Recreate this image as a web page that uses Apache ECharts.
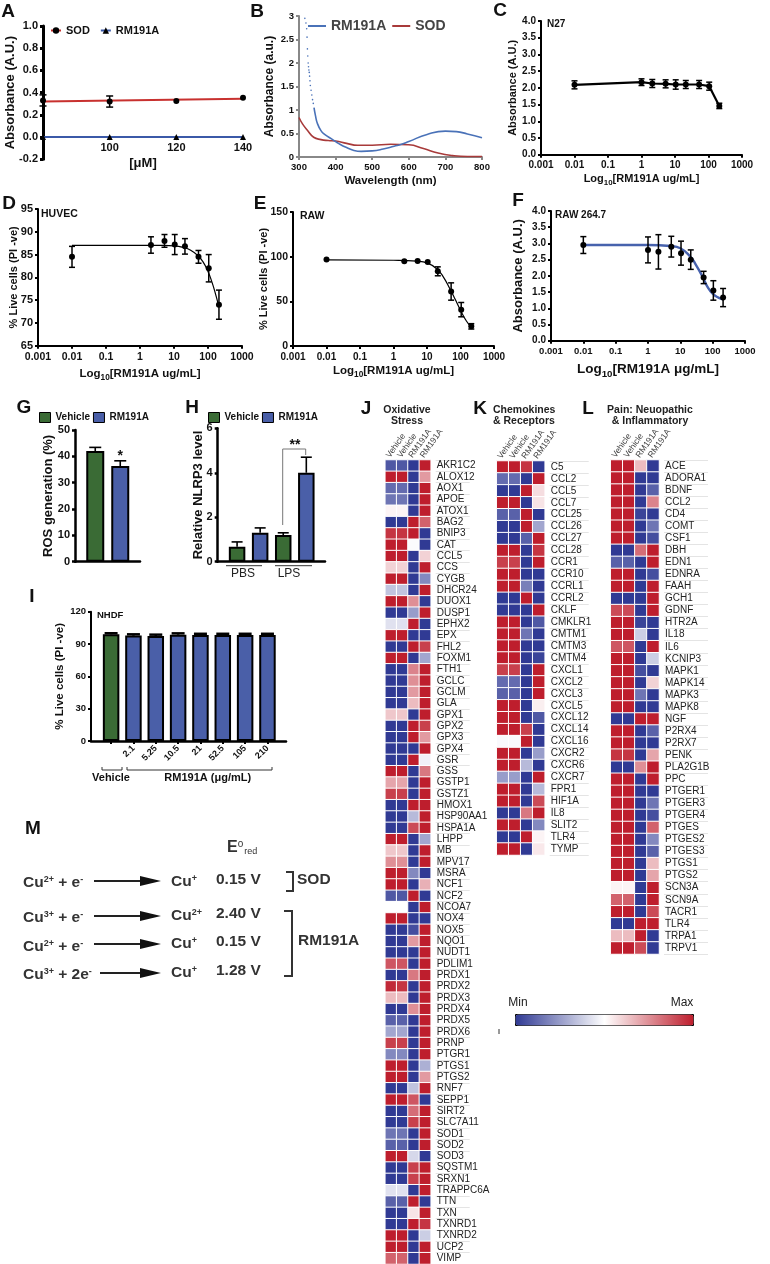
<!DOCTYPE html>
<html>
<head>
<meta charset="utf-8">
<title>RM191A panels</title>
<style>
  html, body { margin: 0; padding: 0; background: #fff; }
  #chart { width: 770px; height: 1264px; }
</style>
<script src="https://cdn.jsdelivr.net/npm/echarts@6/dist/echarts.min.js"></script>
</head>
<body>
<div id="chart"></div>
<script>
// ---- data ----
const concA = [80, 100, 120, 140];
const sodA = [0.33, 0.32, 0.325, 0.355];
const sodErrA = [0.05, 0.05, 0, 0];
const sodFitX = [80, 140];
const sodFitY = [0.32, 0.345];
const rmA = [0, 0, 0, 0];

const rmWaveDots = [316, 319, 321, 322, 323, 324, 325, 326, 327, 328, 329, 330, 331, 333, 335, 337, 339];
const rmAbsDots = [2.95, 2.85, 2.73, 2.55, 2.3, 2.15, 2.0, 1.92, 1.85, 1.8, 1.72, 1.62, 1.52, 1.42, 1.32, 1.22, 1.14];
const rmWave = [341, 345, 350, 360, 370, 390, 410, 430, 450, 470, 500, 530, 560, 580, 600, 650, 700, 730, 760, 800];
const rmAbs = [1.05, 0.88, 0.72, 0.56, 0.48, 0.38, 0.28, 0.2, 0.14, 0.12, 0.13, 0.17, 0.23, 0.27, 0.33, 0.48, 0.55, 0.54, 0.49, 0.41];
const sodWave = [300, 310, 325, 340, 360, 380, 400, 430, 460, 500, 550, 600, 640, 680, 720, 760, 800];
const sodAbs = [0.84, 0.7, 0.55, 0.42, 0.37, 0.35, 0.34, 0.29, 0.25, 0.25, 0.27, 0.26, 0.18, 0.085, 0.03, 0.01, 0.01];

const doseC = [0.01, 1, 2.1, 5.25, 10.5, 21, 52.5, 105, 210];
const absC = [2.09, 2.17, 2.13, 2.12, 2.1, 2.1, 2.1, 2.05, 1.46];
const errC = [0.12, 0.1, 0.12, 0.12, 0.14, 0.12, 0.12, 0.12, 0.08];

const doseD = [0.01, 2.1, 5.25, 10.5, 21, 52.5, 105, 210];
const liveD = [84.5, 87.1, 88, 87.2, 86.8, 84.5, 82, 74];
const errD = [2.3, 1.8, 1.4, 2.2, 1.7, 1.4, 3, 3.2];
const fitXD = [0.01, 0.1, 1, 2, 5, 10, 20, 30, 50, 70, 100, 130, 160, 210];
const fitYD = [87, 87, 87, 87, 87, 86.9, 86.5, 86, 84.8, 83.5, 81.3, 79, 76.8, 73.5];

const doseE = [0.01, 2.1, 5.25, 10.5, 21, 52.5, 105, 210];
const liveE = [96.7, 94.8, 95.1, 94, 83.6, 61, 40.7, 22];
const errE = [0, 0, 0, 0, 5, 9.7, 8, 3];
const fitXE = [0.01, 1, 5, 10, 20, 30, 50, 70, 100, 150, 210];
const fitYE = [96.5, 96, 95, 93, 86, 78, 63, 52, 40, 28, 21];

const doseF = [0.01, 1, 2.1, 5.25, 10.5, 21, 52.5, 105, 210];
const absF = [2.95, 2.8, 2.74, 2.9, 2.7, 2.5, 1.95, 1.55, 1.33];
const errF = [0.26, 0.4, 0.53, 0.32, 0.37, 0.3, 0.19, 0.3, 0.28];
const fitXF = [0.01, 1, 5, 10, 20, 30, 50, 70, 100, 150, 210];
const fitYF = [2.95, 2.95, 2.92, 2.85, 2.6, 2.35, 1.95, 1.65, 1.45, 1.33, 1.28];

const rosValues = [42, 36.3];
const rosErrs = [1.4, 2];
const nlrpVehicle = [0.67, 1.2];
const nlrpVehicleErr = [0.22, 0.1];
const nlrpRm = [1.3, 4];
const nlrpRmErr = [0.22, 0.7];
const nhdfDoses = ['2.1', '5.25', '10.5', '21', '52.5', '105', '210'];
const nhdfVehicle = [99];
const nhdfRm = [97.8, 97.5, 98.7, 98.3, 98.3, 98.3, 98.3];
const nhdfErr = [1, 1.2, 1.2, 1.2, 1.2, 1.2, 1.2, 1.2];

const heatCols = ['Vehicle', 'Vehicle', 'RM191A', 'RM191A'];

const oxidativeGenes = ['AKR1C2', 'ALOX12', 'AOX1', 'APOE', 'ATOX1', 'BAG2', 'BNIP3', 'CAT', 'CCL5', 'CCS', 'CYGB', 'DHCR24', 'DUOX1', 'DUSP1', 'EPHX2', 'EPX', 'FHL2', 'FOXM1', 'FTH1', 'GCLC', 'GCLM', 'GLA', 'GPX1', 'GPX2', 'GPX3', 'GPX4', 'GSR', 'GSS', 'GSTP1', 'GSTZ1', 'HMOX1', 'HSP90AA1', 'HSPA1A', 'LHPP', 'MB', 'MPV17', 'MSRA', 'NCF1', 'NCF2', 'NCOA7', 'NOX4', 'NOX5', 'NQO1', 'NUDT1', 'PDLIM1', 'PRDX1', 'PRDX2', 'PRDX3', 'PRDX4', 'PRDX5', 'PRDX6', 'PRNP', 'PTGR1', 'PTGS1', 'PTGS2', 'RNF7', 'SEPP1', 'SIRT2', 'SLC7A11', 'SOD1', 'SOD2', 'SOD3', 'SQSTM1', 'SRXN1', 'TRAPPC6A', 'TTN', 'TXN', 'TXNRD1', 'TXNRD2', 'UCP2', 'VIMP'];
const oxidativeValues = [
  [-.85, -.85, -1, 1], [1, 1, -1, .45], [-.75, -.75, -1, 1], [-.7, -.7, -1, 1], [.05, .05, -1, 1], [-1, -1, 1, .7],
  [.9, .9, 1, -1], [1, 1, -.02, -1], [1, 1, -1, .2], [.2, .2, -1, 1], [1, 1, -1, -.6], [-.3, -.3, -1, 1],
  [1, 1, .5, -1], [-1, -1, -.5, 1], [-.15, -.15, 1, -1], [1, 1, -1, -1], [-1, -1, 1, .85], [1, 1, -1, -.45],
  [-1, -1, .55, 1], [-1, -1, .5, 1], [-1, -1, .45, 1], [-1, -1, .3, 1], [.25, .25, -1, 1], [-1, -1, 1, .85],
  [-1, -1, 1, .45], [-1, -1, -1, 1], [-1, -1, 1, -.07], [1, 1, -1, .6], [.4, .4, -1, 1], [.85, .85, -1, 1],
  [-1, -1, 1, 1], [-1, -1, -.35, 1], [-1, -1, .8, 1], [1, 1, -1, -.45], [.25, .25, -1, 1], [.5, .5, -1, 1],
  [1, 1, -.6, -1], [1, 1, -1, .35], [-.85, -.85, 1, -1], [0, 0, -1, 1], [1, 1, -1, -1], [-1, -1, -.9, 1],
  [-1, -1, .45, 1], [-1, -1, -1, 1], [.75, .75, -1, 1], [-1, -1, .6, 1], [.95, .9, -1, 1], [.3, .3, -1, 1],
  [-1, -1, .5, 1], [-.8, -.8, -1, 1], [-.45, -.45, -1, 1], [.85, .85, -1, 1], [-.6, -.6, -1, 1], [1, 1, -1, -.4],
  [1, 1, -1, .45], [-1, -1, -.3, 1], [1, 1, .75, -1], [-1, -1, .65, 1], [-1, -1, .85, 1], [-.7, -.7, -1, 1],
  [-.8, -.8, -1, 1], [1, 1, -.2, -1], [-1, -1, .85, 1], [-1, -1, .85, 1], [-.15, -.15, -1, 1], [-.8, -.8, 1, -1],
  [-1, -1, .12, 1], [-1, -1, 1, .9], [1, 1, -1, -.25], [1, 1, -1, 1], [.7, .7, -1, 1]
];

const chemokineGenes = ['C5', 'CCL2', 'CCL5', 'CCL7', 'CCL25', 'CCL26', 'CCL27', 'CCL28', 'CCR1', 'CCR10', 'CCRL1', 'CCRL2', 'CKLF', 'CMKLR1', 'CMTM1', 'CMTM3', 'CMTM4', 'CXCL1', 'CXCL2', 'CXCL3', 'CXCL5', 'CXCL12', 'CXCL14', 'CXCL16', 'CXCR2', 'CXCR6', 'CXCR7', 'FPR1', 'HIF1A', 'IL8', 'SLIT2', 'TLR4', 'TYMP'];
const chemokineValues = [
  [1, 1, .9, -1], [-.75, -.75, -1, 1], [-1, -1, 1, .15], [1, 1, -1, .12], [-.8, -.8, 1, -1], [-1, -1, 1, -.45],
  [-1, -1, -.8, 1], [1, 1, -1, .9], [.85, .85, -1, 1], [1, 1, -1, -1], [1, 1, -.65, -1], [-1, -1, 1, -1],
  [-1, -1, -1, 1], [1, 1, -1, -.85], [1, 1, -.7, -1], [1, 1, -1, -1], [1, 1, -1, -.95], [.85, .85, -1, 1],
  [-.75, -.75, -1, 1], [-.8, -.8, -1, 1], [1, 1, -1, .07], [1, 1, -1, -.85], [1, 1, .85, -1], [-.03, -.03, 1, -1],
  [1, 1, -1, -.5], [1, 1, -.35, -1], [-.5, -.5, -1, 1], [1, 1, -1, -.35], [1, 1, -1, .8], [-1, -1, .6, 1],
  [1, 1, -1, -.6], [-1, -1, 1, .05], [1, 1, -1, .1]
];

const painGenes = ['ACE', 'ADORA1', 'BDNF', 'CCL2', 'CD4', 'COMT', 'CSF1', 'DBH', 'EDN1', 'EDNRA', 'FAAH', 'GCH1', 'GDNF', 'HTR2A', 'IL18', 'IL6', 'KCNIP3', 'MAPK1', 'MAPK14', 'MAPK3', 'MAPK8', 'NGF', 'P2RX4', 'P2RX7', 'PENK', 'PLA2G1B', 'PPC', 'PTGER1', 'PTGER3', 'PTGER4', 'PTGES', 'PTGES2', 'PTGES3', 'PTGS1', 'PTGS2', 'SCN3A', 'SCN9A', 'TACR1', 'TLR4', 'TRPA1', 'TRPV1'];
const painValues = [
  [1, 1, .3, -1], [1, 1, -1, -1], [1, 1, -1, -.8], [1, 1, -1, .55], [1, 1, -.95, -1], [1, 1, -1, -.7],
  [1, 1, -1, -.9], [-1, -1, .65, 1], [-.8, -.8, -1, 1], [1, 1, -1, -.9], [1, 1, -1, 1], [-1, -1, -1, 1],
  [.8, .8, -1, 1], [1, 1, -.95, -1], [1, 1, -.25, -1], [.75, .75, -1, 1], [1, 1, -1, -.25], [1, 1, -.9, -1],
  [1, 1, -1, .2], [1, 1, -.7, -1], [1, 1, -1, -1], [-1, -1, 1, 1], [1, 1, -1, -.8], [1, 1, -1, -1],
  [.9, .9, -1, .4], [-1, -1, .5, 1], [1, 1, -1, 1], [1, 1, -1, -1], [1, 1, -1, -.7], [1, 1, -1, -.9],
  [1, 1, -1, .7], [1, 1, -1, -.6], [1, 1, -1, -.8], [1, 1, -1, .3], [1, 1, -1, .4], [.05, .05, -1, 1],
  [.7, .7, -1, 1], [1, 1, -1, .8], [-1, -1, 1, 1], [.3, .3, 1, -1], [1, 1, .8, -1]
];

const reactions = ['Cu{s|2+} + e{s|-}', 'Cu{s|3+} + e{s|-}', 'Cu{s|2+} + e{s|-}', 'Cu{s|3+} + 2e{s|-}'];
const products = ['Cu{s|+}', 'Cu{s|2+}', 'Cu{s|+}', 'Cu{s|+}'];
const potentials = ['0.15 V', '2.40 V', '0.15 V', '1.28 V'];

// ---- colours ----
const GREEN = '#3a6b35';
const BLUE = '#4a5fa8';
const FONT = '"Liberation Sans", Arial, sans-serif';

const grids = [], xAxes = [], yAxes = [], series = [], graphics = [];
const zip = (xs, ys) => xs.map((x, i) => [x, ys[i]]);

// text helper for panel letters, notes and the scheme in M
function text(str, x, y, font, opts) {
  opts = opts || {};
  graphics.push({
    type: 'text', x: x, y: y, silent: true, rotation: opts.rotation || 0,
    style: {
      text: str, font: font + ' ' + FONT, fill: opts.fill || '#111',
      align: opts.align || 'left', verticalAlign: 'middle', rich: opts.rich, lineHeight: opts.lineHeight
    }
  });
}
function path(points, color, width) {
  graphics.push({
    type: 'polyline', silent: true,
    shape: { points: points },
    style: { stroke: color, lineWidth: width, fill: null }
  });
}

function axisBase(size, color, lineW, nameSize, gap, margin) {
  return {
    axisLine: { show: true, onZero: false, lineStyle: { color: color, width: lineW } },
    axisTick: { show: true, length: 3, lineStyle: { color: color, width: lineW } },
    axisLabel: { fontSize: size, fontWeight: 'bold', color: '#111', margin: margin || 5, fontFamily: FONT },
    splitLine: { show: false },
    nameLocation: 'middle',
    nameMoveOverlap: false,
    nameGap: gap,
    nameTextStyle: {
      fontSize: nameSize, fontWeight: 'bold', color: '#111', fontFamily: FONT,
      rich: {
        s: { fontSize: nameSize * 0.72, fontWeight: 'bold', color: '#111', fontFamily: FONT, verticalAlign: 'bottom', padding: [nameSize * 0.7, 0, 0, 0] }
      }
    }
  };
}

function addGrid(box, xAxis, yAxis) {
  const i = grids.length;
  grids.push({ left: box[0], top: box[1], width: box[2], height: box[3] });
  xAxes.push(Object.assign({ gridIndex: i }, xAxis));
  yAxes.push(Object.assign({ gridIndex: i }, yAxis));
  return i;
}

function logX(size, nameSize, gap) {
  return Object.assign(axisBase(size, '#000', 2, nameSize, gap, 6), {
    type: 'log', min: 0.001, max: 1000, logBase: 10,
    name: 'Log{s|10}[RM191A ug/mL]',
    minorTick: { show: false }, minorSplitLine: { show: false }
  });
}
function merge(a, b) { return Object.assign(a, b); }
function labelFmt(cfg, fn) { cfg.axisLabel.formatter = fn; return cfg; }
const logLabel = v => String(+Number(v).toFixed(3));

// error bars drawn through the axis scales
function errorBars(gi, xs, ys, errs, cap, width, upOnly) {
  series.push({
    type: 'custom', xAxisIndex: gi, yAxisIndex: gi, silent: true, z: 5,
    encode: { x: 0, y: 1 },
    data: xs.map((x, i) => [x, ys[i], errs[i]]),
    renderItem: function (params, api) {
      const e = api.value(2);
      if (!e) return null;
      const top = api.coord([api.value(0), api.value(1) + e]);
      const bot = api.coord([api.value(0), api.value(1) - (upOnly ? 0 : e)]);
      const st = { stroke: '#000', lineWidth: width, fill: null };
      const kids = [
        { type: 'line', shape: { x1: top[0], y1: top[1], x2: bot[0], y2: bot[1] }, style: st },
        { type: 'line', shape: { x1: top[0] - cap, y1: top[1], x2: top[0] + cap, y2: top[1] }, style: st }
      ];
      if (!upOnly) kids.push({ type: 'line', shape: { x1: bot[0] - cap, y1: bot[1], x2: bot[0] + cap, y2: bot[1] }, style: st });
      return { type: 'group', children: kids };
    }
  });
}
function dots(gi, xs, ys, size, symbol) {
  series.push({
    type: 'scatter', xAxisIndex: gi, yAxisIndex: gi, z: 6, silent: true,
    symbol: symbol || 'circle', symbolSize: size,
    itemStyle: { color: '#000', opacity: 1 }, data: zip(xs, ys)
  });
}
function line(gi, xs, ys, color, width, smooth, name) {
  series.push({
    type: 'line', name: name, xAxisIndex: gi, yAxisIndex: gi, z: 4, silent: true,
    showSymbol: false, symbol: 'none', smooth: smooth || false,
    lineStyle: { color: color, width: width }, itemStyle: { color: color }, data: zip(xs, ys)
  });
}

// ---- A ----
const gA = addGrid([43, 26, 200, 133.3],
  labelFmt(merge(axisBase(11, '#222', 1, 13, -2, -17), {
    type: 'value', min: 80, max: 140, interval: 20, name: '[\u03bcM]', position: 'bottom',
    axisLine: { show: true, onZero: true, lineStyle: { color: '#222', width: 1 } }
  }), v => (v === 80 ? '' : v)),
  labelFmt(merge(axisBase(11, '#000', 3, 13, 26), {
    type: 'value', min: -0.2, max: 1, interval: 0.2, name: 'Absorbance (A.U.)'
  }), v => v.toFixed(1)));
series.push({
  type: 'line', name: 'SOD', xAxisIndex: gA, yAxisIndex: gA, z: 4, silent: true,
  symbol: 'circle', showSymbol: false,
  lineStyle: { color: '#c8312f', width: 2 }, itemStyle: { color: '#000' }, data: zip(sodFitX, sodFitY)
});
series.push({
  type: 'line', name: 'RM191A', xAxisIndex: gA, yAxisIndex: gA, z: 4, silent: true,
  symbol: 'triangle', symbolSize: 6,
  lineStyle: { color: '#3b59a8', width: 2 }, itemStyle: { color: '#000' }, data: zip(concA, rmA)
});
errorBars(gA, concA, sodA, sodErrA, 3.5, 1.5);
dots(gA, concA, sodA, 6);

// ---- B ----
const gB = addGrid([299, 16, 183, 141],
  merge(axisBase(9.5, '#888', 2, 11.5, 18), { type: 'value', min: 300, max: 800, interval: 100, name: 'Wavelength (nm)' }),
  merge(axisBase(9.5, '#888', 2, 12, 23), { type: 'value', min: 0, max: 3, interval: 0.5, name: 'Absorbance (a.u.)' }));
line(gB, sodWave, sodAbs, '#a83a3a', 1.6, true, 'SOD');
line(gB, rmWave, rmAbs, '#4a72b8', 1.6, true, 'RM191A');
series.push({
  type: 'scatter', xAxisIndex: gB, yAxisIndex: gB, silent: true, symbolSize: 1.6,
  itemStyle: { color: '#4a72b8', opacity: 1 }, data: zip(rmWaveDots, rmAbsDots)
});

// ---- C ----
const gC = addGrid([541, 21, 201, 133.7],
  labelFmt(logX(10, 11, 16), logLabel),
  labelFmt(merge(axisBase(10, '#000', 2, 11, 23), { type: 'value', min: 0, max: 4, interval: 0.5, name: 'Absorbance (A.U.)' }), v => v.toFixed(1)));
line(gC, doseC, absC, '#000', 2.2);
errorBars(gC, doseC, absC, errC, 3, 1.5);
dots(gC, doseC, absC, 6);

// ---- D ----
const gD = addGrid([38, 209, 204, 136.7],
  labelFmt(logX(10.5, 11.5, 20), logLabel),
  merge(axisBase(11, '#000', 2, 11, 19), { type: 'value', min: 65, max: 95, interval: 5, name: '% Live cells (PI -ve)' }));
line(gD, fitXD, fitYD, '#000', 1.2, true);
errorBars(gD, doseD, liveD, errD, 3, 1.5);
dots(gD, doseD, liveD, 6);

// ---- E ----
const gE = addGrid([293, 212, 201, 134],
  labelFmt(logX(10, 11.5, 17), logLabel),
  merge(axisBase(10.5, '#000', 2, 11, 24), { type: 'value', min: 0, max: 150, interval: 50, name: '% Live cells (PI -ve)' }));
line(gE, fitXE, fitYE, '#000', 1.2, true);
errorBars(gE, doseE, liveE, errE, 3, 1.5);
dots(gE, doseE, liveE, 6);

// ---- F ----
const gF = addGrid([551, 211, 194, 129.7],
  labelFmt(merge(logX(9.5, 13.5, 19), { name: 'Log{s|10}[RM191A \u03bcg/mL]' }), logLabel),
  labelFmt(merge(axisBase(10, '#000', 2, 13, 26), { type: 'value', min: 0, max: 4, interval: 0.5, name: 'Absorbance (A.U.)' }), v => v.toFixed(1)));
line(gF, fitXF, fitYF, '#4762ad', 2.4, true);
errorBars(gF, doseF, absF, errF, 3, 1.5);
dots(gF, doseF, absF, 6);

// ---- G, H, I bars (value x axis so bars and error bars share one scale) ----
function bar(gi, name, xs, ys, color, w) {
  series.push({
    type: 'bar', name: name, xAxisIndex: gi, yAxisIndex: gi, silent: true, barWidth: w, barGap: '-100%', z: 3,
    itemStyle: { color: color, borderColor: '#000', borderWidth: 2 }, data: zip(xs, ys)
  });
}
function plainX(min, max) {
  const a = axisBase(9, '#000', 2.5, 11, 10);
  a.axisTick = { show: false };
  a.axisLabel = { show: false };
  return merge(a, { type: 'value', min: min, max: max });
}

const gG = addGrid([75, 430, 65, 131.7],
  plainX(0.19, 2.79),
  merge(axisBase(11, '#000', 2.5, 13, 20), { type: 'value', min: 0, max: 50, interval: 10, name: 'ROS generation (%)' }));
bar(gG, 'Vehicle', [1], [rosValues[0]], GREEN, 18);
bar(gG, 'RM191A', [2], [rosValues[1]], BLUE, 18);
errorBars(gG, [1, 2], rosValues, rosErrs, 6, 1.6, true);

const gH = addGrid([217.7, 428.3, 107.3, 133.4],
  plainX(0.16, 4.81),
  merge(axisBase(11, '#000', 2.5, 13, 13), { type: 'value', min: 0, max: 6, interval: 2, name: 'Relative NLRP3 level' }));
bar(gH, 'Vehicle', [1, 3], nlrpVehicle, GREEN, 16.5);
bar(gH, 'RM191A', [2, 4], nlrpRm, BLUE, 16.5);
errorBars(gH, [1, 3], nlrpVehicle, nlrpVehicleErr, 5.5, 1.6, true);
errorBars(gH, [2, 4], nlrpRm, nlrpRmErr, 5.5, 1.6, true);

const doseSlots = nhdfDoses.map((d, i) => i + 2);
const xI = axisBase(9, '#000', 2.5, 11, 10);
xI.axisTick = { show: true, length: 3, lineStyle: { color: '#000', width: 2 }, customValues: [1].concat(doseSlots) };
xI.axisLabel = {
  fontSize: 9, fontWeight: 'bold', color: '#111', fontFamily: FONT, margin: 6, rotate: 45,
  customValues: doseSlots, formatter: v => nhdfDoses[v - 2]
};
const gI = addGrid([91, 611.7, 195, 129.3],
  merge(xI, { type: 'value', min: 0.1, max: 8.83 }),
  merge(axisBase(9.5, '#000', 2, 11.5, 25), { type: 'value', min: 0, max: 120, interval: 30, name: '% Live cells (PI -ve)' }));
bar(gI, 'Vehicle', [1], nhdfVehicle, GREEN, 16.5);
bar(gI, 'RM191A', doseSlots, nhdfRm, BLUE, 16.5);
errorBars(gI, [1].concat(doseSlots), nhdfVehicle.concat(nhdfRm), nhdfErr, 6.5, 2.5, true);

// ---- J, K, L heat maps ----
const heatSeries = [];
function heatmap(box, genes, values, lineLen) {
  const gi = addGrid(box,
    {
      type: 'category', data: heatCols, position: 'top', splitArea: { show: false },
      axisLine: { show: false }, axisTick: { show: false }, axisLabel: { show: false }
    },
    {
      type: 'category', data: genes, inverse: true, position: 'right', offset: 5, splitArea: { show: false },
      axisLine: { show: false },
      axisTick: { show: true, length: lineLen, lineStyle: { color: '#e4e4e4', width: 1 } },
      axisLabel: { fontSize: 10, color: '#222', margin: 1, interval: 0, fontFamily: FONT }
    });
  const cells = [];
  values.forEach((row, r) => row.forEach((v, c) => cells.push([c, r, v])));
  heatSeries.push(series.length);
  series.push({
    type: 'heatmap', xAxisIndex: gi, yAxisIndex: gi, silent: true, data: cells,
    itemStyle: { borderColor: '#fff', borderWidth: 1 }
  });
  // slanted column heads
  heatCols.forEach((name, c) => {
    text(name, box[0] + (c + 0.5) * box[2] / 4 - 3, box[1] - 3, '8.5px', {
      fill: '#444', rotation: 55 * Math.PI / 180
    });
  });
}
heatmap([385.3, 460, 45.4, 804], oxidativeGenes, oxidativeValues, 34);
heatmap([496.7, 461, 48, 394], chemokineGenes, chemokineValues, 39);
heatmap([610.7, 460, 48.3, 494], painGenes, painValues, 44);

// ---- annotations ----
[['A', 8, 12], ['B', 257, 12], ['C', 500, 11], ['D', 9, 204], ['E', 260, 204], ['F', 518, 201],
 ['G', 24, 408], ['H', 192, 408], ['I', 32, 597], ['M', 33, 829], ['J', 366, 409], ['K', 480, 409], ['L', 588, 409]]
  .forEach(p => text(p[0], p[1], p[2], 'bold 19px', { align: 'center' }));

text('N27', 547, 24, 'bold 10px');
text('HUVEC', 41, 214, 'bold 10.5px');
text('RAW', 300, 216, 'bold 10.5px');
text('RAW 264.7', 555, 215, 'bold 10px');
text('NHDF', 97, 615, 'bold 9.5px');
text('*', 120.3, 456, 'bold 14px', { align: 'center' });
text('**', 295, 445, 'bold 14px', { align: 'center' });
path([[282.7, 525], [282.7, 449], [305.7, 449], [305.7, 455]], '#777', 1);
path([[226, 565.7], [262, 565.7]], '#333', 1);
path([[275, 565.7], [312, 565.7]], '#333', 1);
text('PBS', 243, 574, '12px', { align: 'center', fill: '#222' });
text('LPS', 289, 574, '12px', { align: 'center', fill: '#222' });

path([[102, 767], [102, 770], [122, 770], [122, 767]], '#333', 1);
path([[127, 767], [127, 770], [272, 770], [272, 767]], '#333', 1);
text('Vehicle', 111, 778, 'bold 11px', { align: 'center' });
text('RM191A (\u03bcg/mL)', 207.7, 778, 'bold 11px', { align: 'center' });

// heat map headings
text('Oxidative\nStress', 407, 416, 'bold 10.5px', { align: 'center', fill: '#222', lineHeight: 11 });
text('Chemokines\n& Receptors', 493, 416, 'bold 10.5px', { fill: '#222', lineHeight: 11 });
text('Pain: Neuopathic\n& Inflammatory', 650, 416, 'bold 10.5px', { align: 'center', fill: '#222', lineHeight: 11 });
text('Min', 518, 1003, '12px', { align: 'center', fill: '#222' });
text('Max', 682, 1003, '12px', { align: 'center', fill: '#222' });
path([[499, 1029], [499, 1034]], '#333', 1);

// scheme M
const supStyle = { s: { font: 'bold 9px ' + FONT, fill: '#333', verticalAlign: 'top' } };
const reactionY = [883, 918, 947, 975];
const productY = [882, 916, 944, 973];
const arrowY = [881, 916, 944, 973];
const potentialY = [880, 914, 942, 971];
const arrowFrom = [94, 94, 94, 100];
text('E{o|o}{r|red}', 227, 848, 'bold 16px', {
  fill: '#333',
  rich: {
    o: { font: '10px ' + FONT, fill: '#333', verticalAlign: 'top' },
    r: { font: '9px ' + FONT, fill: '#333', verticalAlign: 'bottom', padding: [8, 0, 0, 1] }
  }
});
reactions.forEach((r, i) => {
  const y = arrowY[i];
  text(r, 23, reactionY[i], 'bold 15.5px', { fill: '#333', rich: supStyle });
  path([[arrowFrom[i], y], [145, y]], '#222', 2);
  graphics.push({
    type: 'polygon', silent: true,
    shape: { points: [[140, y - 5], [161, y], [140, y + 5]] },
    style: { fill: '#111' }
  });
  text(products[i], 171, productY[i], 'bold 15.5px', { fill: '#333', rich: supStyle });
  text(potentials[i], 216, potentialY[i], 'bold 15.5px', { fill: '#333' });
});
path([[286, 872], [293, 872], [293, 891], [286, 891]], '#333', 2);
text('SOD', 297, 880, 'bold 15.5px', { fill: '#333' });
path([[284, 911], [292, 911], [292, 976], [284, 976]], '#333', 2);
text('RM191A', 298, 941, 'bold 15.5px', { fill: '#333' });

// ---- legends ----
function legendText(size, color) { return { fontSize: size, fontWeight: 'bold', color: color || '#111', fontFamily: FONT }; }
function swatch(name, color) {
  return { name: name, icon: 'rect', itemStyle: { color: color, borderColor: '#000', borderWidth: 1 } };
}
const legends = [
  {
    left: 50, top: 25, selectedMode: false, padding: 0, itemWidth: 10, itemHeight: 8, itemGap: 10,
    textStyle: legendText(11), data: ['SOD', 'RM191A']
  },
  {
    left: 308, top: 19, selectedMode: false, padding: 0, itemWidth: 18, itemHeight: 2, itemGap: 6,
    textStyle: legendText(14, '#444'),
    data: [
      { name: 'RM191A', icon: 'rect', itemStyle: { color: '#4a72b8', borderWidth: 0 } },
      { name: 'SOD', icon: 'rect', itemStyle: { color: '#a83a3a', borderWidth: 0 } }
    ]
  },
  {
    left: 39, top: 412, selectedMode: false, padding: 0, itemWidth: 11, itemHeight: 10, itemGap: 3,
    textStyle: legendText(10), data: [swatch('Vehicle', GREEN), swatch('RM191A', BLUE)]
  },
  {
    left: 208, top: 412, selectedMode: false, padding: 0, itemWidth: 11, itemHeight: 10, itemGap: 3,
    textStyle: legendText(10), data: [swatch('Vehicle', GREEN), swatch('RM191A', BLUE)]
  }
];

const myChart = echarts.init(document.getElementById('chart'), null, { renderer: 'canvas' });
myChart.setOption({
  animation: false,
  backgroundColor: '#fff',
  textStyle: { fontFamily: FONT },
  tooltip: { show: false },
  grid: grids,
  xAxis: xAxes,
  yAxis: yAxes,
  legend: legends,
  visualMap: {
    type: 'continuous', min: -1, max: 1, dimension: 2, seriesIndex: heatSeries,
    orient: 'horizontal', left: 515, top: 1014, itemWidth: 11, itemHeight: 178,
    calculable: false, realtime: false, hoverLink: false, text: null, showLabel: false, padding: 0,
    borderColor: '#000', borderWidth: 1,
    inRange: { color: ['#303a94', '#ffffff', '#be1e2d'] }
  },
  series: series,
  graphic: graphics
});
</script>
</body>
</html>
